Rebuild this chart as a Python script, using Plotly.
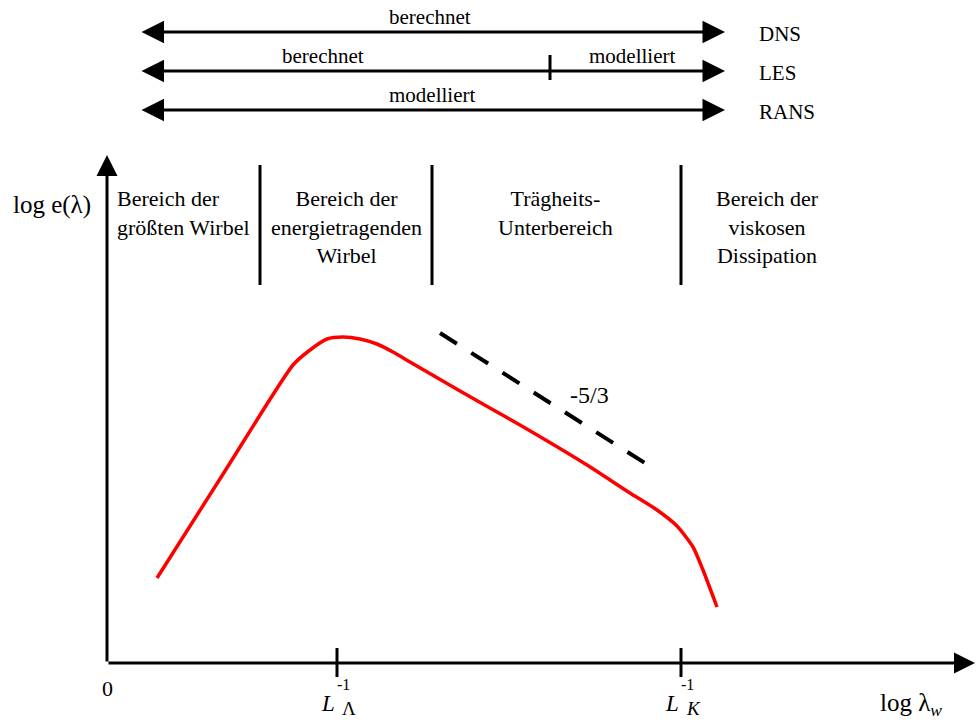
import plotly.graph_objects as go

# ---------------- data (schematic units: log wavenumber / log energy) ----------------
curve_x = [0.50, 1.18, 1.86, 2.03, 2.20, 2.36, 2.53, 2.70, 2.86, 3.03, 3.53,
           4.13, 4.80, 5.23, 5.50, 5.70, 5.86, 5.96, 6.10]
curve_y = [0.85, 1.92, 2.98, 3.13, 3.24, 3.26, 3.24, 3.19, 3.11, 3.01, 2.72,
           2.38, 1.98, 1.70, 1.53, 1.37, 1.16, 0.93, 0.56]

slope_x = [3.33, 5.41]
slope_y = [3.30, 1.98]
slope_label = "-5/3"

region_bounds = [1.53, 3.25, 5.74]
region_labels = ["Bereich der<br>größten Wirbel",
                 "Bereich der<br>energietragenden<br>Wirbel",
                 "Trägheits-<br>Unterbereich",
                 "Bereich der<br>viskosen<br>Dissipation"]
region_anchor_x = [0.08, 2.39, 4.48, 6.60]
region_align = ["left", "center", "center", "center"]

tick_pos = [2.30, 5.74]
tick_sub = ["Λ", "<i>K</i>"]

methods = ["DNS", "LES", "RANS"]
method_levels = [6.31, 5.92, 5.53]
method_span = [0.33, 6.18]
les_split = 4.43
method_texts = [[("berechnet", 3.23)],
                [("berechnet", 2.16), ("modelliert", 5.25)],
                [("modelliert", 3.25)]]

# ---------------- figure ----------------
FONT = "Liberation Serif"
fig = go.Figure()

fig.add_trace(go.Scatter(x=curve_x, y=curve_y, mode="lines",
                         line=dict(color="#ff0000", width=3.5, shape="spline", smoothing=0.6),
                         hoverinfo="skip", showlegend=False))
fig.add_trace(go.Scatter(x=slope_x, y=slope_y, mode="lines",
                         line=dict(color="black", width=4, dash="20px,17px"),
                         hoverinfo="skip", showlegend=False))

ann = []
def arrow(x0, y0, x1, y1, both=False, size=1.4):
    ann.append(dict(x=x1, y=y1, ax=x0, ay=y0, xref="x", yref="y", axref="x", ayref="y",
                    text="", showarrow=True, arrowhead=2, arrowsize=size, arrowwidth=3,
                    arrowcolor="black", arrowside="end+start" if both else "end"))

def label(x, y, text, size=20, xanchor="center", yanchor="middle", align="center"):
    ann.append(dict(x=x, y=y, xref="x", yref="y", text=text, showarrow=False,
                    font=dict(family=FONT, size=size, color="black"),
                    xanchor=xanchor, yanchor=yanchor, align=align))

# axes
arrow(0, 0, 8.68, 0)
arrow(0, 0, 0, 5.08)

# tick marks on x axis
for tx, sub in zip(tick_pos, tick_sub):
    fig.add_shape(type="line", x0=tx, x1=tx, y0=-0.14, y1=0.15,
                  line=dict(color="black", width=3))
    label(tx - 0.09, -0.40, "<i>L</i>", size=23)
    label(tx + 0.06, -0.21, "-1", size=16)
    label(tx + 0.12, -0.45, sub, size=19)

label(0.0, -0.25, "0", size=22)
label(8.04, -0.41, "log λ<sub><i>w</i></sub>", size=25)
label(-0.55, 4.58, "log e(λ)", size=25)

# region separators & labels
for bx in region_bounds:
    fig.add_shape(type="line", x0=bx, x1=bx, y0=3.78, y1=4.98,
                  line=dict(color="black", width=3))
for ax_, txt, al in zip(region_anchor_x, region_labels, region_align):
    label(ax_, 4.79, txt, size=22, xanchor=al, yanchor="top", align=al)

label(4.82, 2.68, slope_label, size=24)

# method arrows (DNS / LES / RANS)
for name, lvl, texts in zip(methods, method_levels, method_texts):
    arrow(method_span[0], lvl, method_span[1], lvl, both=True, size=1.5)
    label(6.50, lvl - 0.02, name, size=21, xanchor="left")
    for t, tx in texts:
        label(tx, lvl + 0.15, t, size=21)
fig.add_shape(type="line", x0=les_split, x1=les_split, y0=5.83, y1=6.08,
              line=dict(color="black", width=3))

fig.update_layout(
    width=977, height=722, margin=dict(l=0, r=0, t=0, b=0),
    paper_bgcolor="white", plot_bgcolor="white",
    xaxis=dict(range=[-1.07, 8.70], visible=False, fixedrange=True),
    yaxis=dict(range=[-0.59, 6.63], visible=False, fixedrange=True),
    annotations=ann, showlegend=False,
)
fig.write_html("out.html")
